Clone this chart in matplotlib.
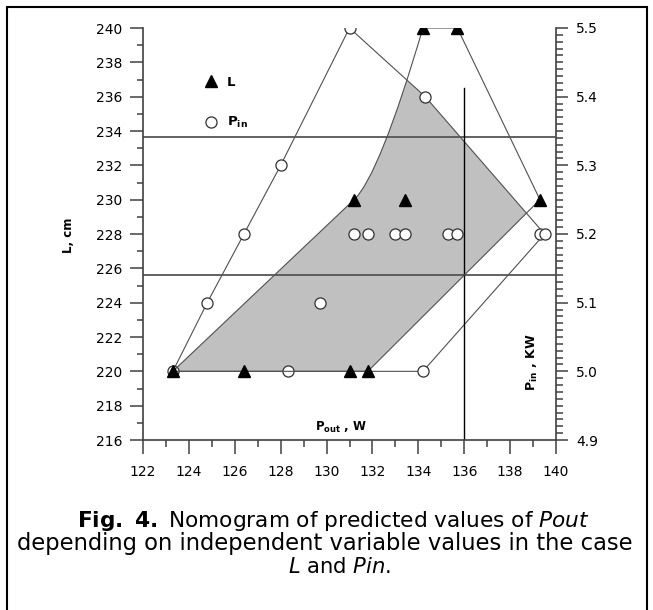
import numpy as np
import matplotlib
matplotlib.use('Agg')
import matplotlib.pyplot as plt
from matplotlib.path import Path
from matplotlib.patches import PathPatch, Polygon, Rectangle
from matplotlib.ticker import MultipleLocator, FormatStrFormatter

plt.rcParams['font.family'] = ['DejaVu Sans']
plt.rcParams['mathtext.fontset'] = 'dejavusans'

# ---------------- data ----------------
# L series (triangles): Pout (W) vs L (cm)
L_pout = [123.3, 126.4, 131.0, 131.8, 131.2, 133.4, 134.2, 135.7, 139.3]
L_val = [220, 220, 220, 220, 230, 230, 240, 240, 230]

# Pin series (circles): Pout (W) vs Pin (KW)
pin_pout = [123.3, 128.3, 134.2, 124.8, 129.7, 126.4, 131.2, 131.8, 133.0,
            133.4, 135.3, 135.7, 139.3, 139.5, 128.0, 134.3, 131.0]
pin_val = [5.0, 5.0, 5.0, 5.1, 5.1, 5.2, 5.2, 5.2, 5.2,
           5.2, 5.2, 5.2, 5.2, 5.2, 5.3, 5.4, 5.5]

# boundary of the L domain (first edge is curved through the L=230 point)
L_edge_pout = [123.3, 131.2, 134.2, 135.7, 139.3, 131.8]
L_edge_val = [220, 230, 240, 240, 230, 220]

# boundary of the Pin domain
pin_edge_pout = [123.3, 124.8, 126.4, 128.0, 131.0, 134.3, 139.5, 134.2]
pin_edge_val = [5.0, 5.1, 5.2, 5.3, 5.5, 5.4, 5.2, 5.0]

# reading lines of the nomogram
read_pout = 136.0
read_pout_top_L = 236.5
read_L = [233.65, 225.63]

x_ticks = list(range(122, 141, 2))
L_ticks = list(range(216, 241, 2))
pin_ticks = [4.9, 5.0, 5.1, 5.2, 5.3, 5.4, 5.5]

# ---------------- figure ----------------
W, H = 653, 610
fig = plt.figure(figsize=(W / 100, H / 100), dpi=100)
fig.patch.set_facecolor('white')

ax = fig.add_axes([143 / W, 1 - 440 / H, (556 - 143) / W, (440 - 28) / H])
ax2 = ax.twinx()

ax.set_xlim(x_ticks[0], x_ticks[-1])
ax.set_ylim(L_ticks[0], L_ticks[-1])
ax2.set_ylim(pin_ticks[0], pin_ticks[-1])

# draw L axes above the Pin axes, keep background transparent
ax.set_zorder(ax2.get_zorder() + 1)
ax.patch.set_visible(False)

line_col = '#505050'
axis_col = '#404040'

# --- L domain path (curved left edge) ---
P = np.column_stack([L_edge_pout, L_edge_val]).astype(float)
ctrl = P[1] + 0.14 * (P[1] - P[0])
verts = [P[0], P[1], ctrl, P[2], P[3], P[4], P[5], P[0]]
codes = [Path.MOVETO, Path.LINETO, Path.CURVE3, Path.CURVE3,
         Path.LINETO, Path.LINETO, Path.LINETO, Path.CLOSEPOLY]
L_path = Path(verts, codes)

# shaded intersection: L domain clipped by Pin domain
pin_poly_clip = Polygon(np.column_stack([pin_edge_pout, pin_edge_val]),
                        closed=True, transform=ax2.transData)
shade = PathPatch(L_path, facecolor='#c0c0c0', edgecolor='none',
                  transform=ax.transData, zorder=0)
ax2.add_patch(shade)
shade.set_clip_path(pin_poly_clip)

# Pin domain outline and points
pin_outline = Polygon(np.column_stack([pin_edge_pout, pin_edge_val]),
                      closed=True, fill=False, edgecolor=line_col, lw=0.8,
                      zorder=2)
ax2.add_patch(pin_outline)
circ, = ax2.plot(pin_pout, pin_val, 'o', ms=8, mfc='white', mec='#303030',
                 mew=0.9, ls='none', zorder=3)

# L domain outline and points
ax.add_patch(PathPatch(L_path, facecolor='none', edgecolor=line_col, lw=0.8,
                       zorder=2))
tri, = ax.plot(L_pout, L_val, '^', ms=9, color='black', ls='none', zorder=4)

# reading lines
for yv in read_L:
    ax.axhline(yv, color='#555555', lw=1.3, zorder=1)
ax.plot([read_pout, read_pout], [L_ticks[0], read_pout_top_L], color='black',
        lw=1.0, zorder=1)

# ---------------- axes styling ----------------
for s in ['top', 'right']:
    ax.spines[s].set_visible(False)
for s in ['top', 'left', 'bottom']:
    ax2.spines[s].set_visible(False)
for s in ['left', 'bottom']:
    ax.spines[s].set_color(axis_col)
    ax.spines[s].set_linewidth(1.2)
ax2.spines['right'].set_color(axis_col)
ax2.spines['right'].set_linewidth(1.2)

ax.xaxis.set_major_locator(MultipleLocator(2))
ax.xaxis.set_minor_locator(MultipleLocator(1))
ax.yaxis.set_major_locator(MultipleLocator(2))
ax.yaxis.set_minor_locator(MultipleLocator(1))
ax2.yaxis.set_major_locator(MultipleLocator(0.1))
ax2.yaxis.set_minor_locator(MultipleLocator(0.01))
ax2.yaxis.set_major_formatter(FormatStrFormatter('%.1f'))

ax.tick_params(axis='y', which='major', length=9.4, width=1.1, color=axis_col,
               labelsize=10, pad=5.5)
ax.tick_params(axis='y', which='minor', length=4, width=1.1, color=axis_col)
ax.tick_params(axis='x', which='major', length=10, width=1.1, color=axis_col,
               labelsize=10, pad=8)
ax.tick_params(axis='x', which='minor', length=5, width=1.1, color=axis_col)
ax2.tick_params(axis='y', which='major', length=8.6, width=1.1, color=axis_col,
                labelsize=10, pad=6)
ax2.tick_params(axis='y', which='minor', length=5, width=1.1, color=axis_col)

# ---------------- labels ----------------
fig.text(68 / W, 1 - 235 / H, 'L, cm', rotation=90, fontsize=8.5,
         fontweight='bold', ha='center', va='center')
ax.text(0.416, 0.022, r'P$_{\mathbf{out}}$ , W', transform=ax.transAxes,
        fontsize=8.5, fontweight='bold', ha='left', va='baseline')
ax.text(0.944, 0.189, r'P$_{\mathbf{in}}$ , KW', transform=ax.transAxes,
        rotation=90, fontsize=9, fontweight='bold', ha='center', va='center')

leg = ax.legend([tri, circ], ['L', r'P$_{\mathbf{in}}$'], loc='upper left',
                bbox_to_anchor=(0.13, 0.90), frameon=False, borderpad=0,
                handlelength=1.2, handletextpad=0.6, labelspacing=2.0,
                prop={'weight': 'bold', 'size': 9.5})

# ---------------- caption ----------------
fig.text(333 / W, 1 - 527 / H,
         r'$\mathbf{Fig.\ 4.}$ Nomogram of predicted values of $\mathit{Pout}$',
         ha='center', va='baseline', fontsize=15.6)
fig.text(325 / W, 1 - 550 / H,
         'depending on independent variable values in the case',
         ha='center', va='baseline', fontsize=16.3)
fig.text(340 / W, 1 - 573 / H, r'$\mathit{L}$ and $\mathit{Pin}$.',
         ha='center', va='baseline', fontsize=15.2)

# outer frame
fig.patches.append(Rectangle((7 / W, -0.1), (647 - 7) / W, 1.1 - 7 / H,
                             transform=fig.transFigure, fill=False,
                             edgecolor='black', lw=1.5))

fig.savefig('out.png', dpi=100)
